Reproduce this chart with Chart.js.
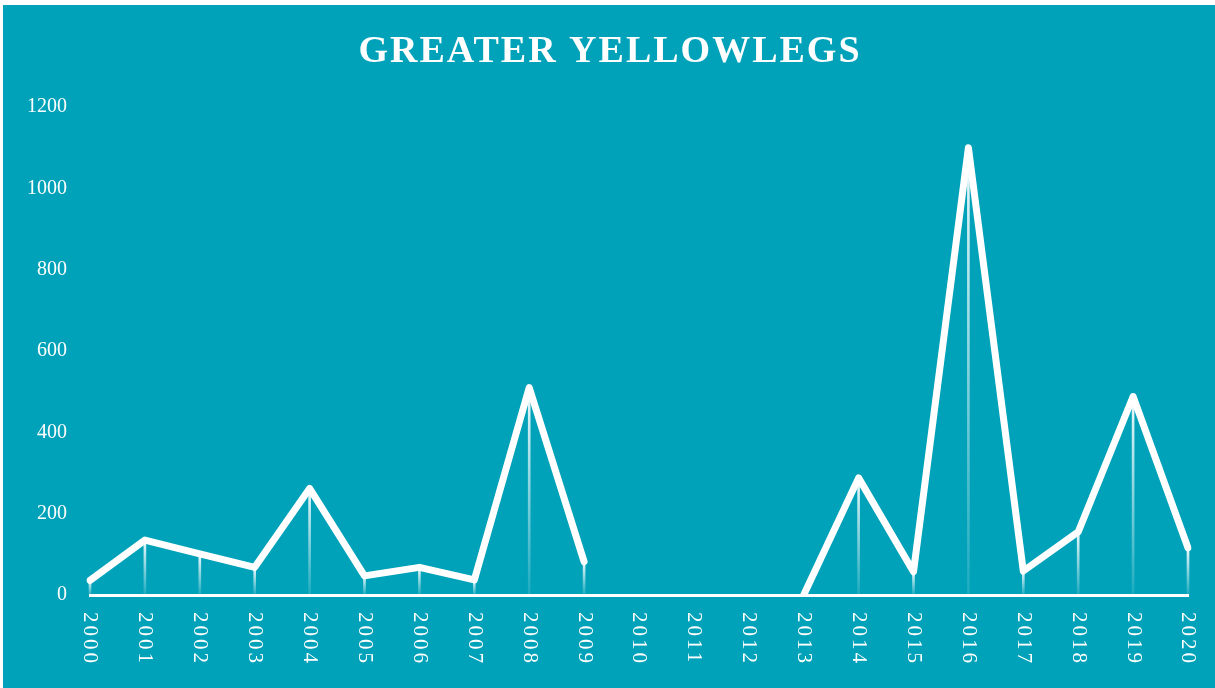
<!DOCTYPE html>
<html>
<head>
<meta charset="utf-8">
<script src="https://cdn.jsdelivr.net/npm/chart.js@4/dist/chart.umd.min.js"></script>
<style>
  html, body { margin: 0; padding: 0; background: #ffffff; overflow: hidden; }
  #wrap { position: fixed; left: 3px; top: 5px; right: 0; bottom: 0; background: #00a2b9; }
</style>
</head>
<body>
<div id="wrap"><canvas id="chart" width="1212" height="683"></canvas></div>
<script>
// ===== GREATER YELLOWLEGS – yearly counts =====

const chartTitle = 'GREATER YELLOWLEGS';
const years = ['2000', '2001', '2002', '2003', '2004', '2005', '2006', '2007', '2008', '2009', '2010',
    '2011', '2012', '2013', '2014', '2015', '2016', '2017', '2018', '2019', '2020'];
// null = no survey that year (line breaks)
const counts = [36, 135, 101, 68, 262, 47, 68, 37, 510, 82, null,
    null, null, 0, 288, 57, 1100, 59, 155, 488, 116];
const yTicks = [0, 200, 400, 600, 800, 1000, 1200];

const bgColor = '#00a2b9';
const white = '#ffffff';
const serif = "'Liberation Serif', 'DejaVu Serif', serif";

// vertical fade from the point down to the baseline
function dropGradient(context) {
    const chart = context.chart;
    const value = context.raw;
    if (!chart.chartArea || value === null || value === undefined) return 'rgba(255,255,255,0)';
    const yScale = chart.scales.y;
    const top = yScale.getPixelForValue(value);
    const bottom = yScale.getPixelForValue(0);
    if (bottom - top < 1) return 'rgba(255,255,255,0)';
    const g = chart.ctx.createLinearGradient(0, top, 0, bottom);
    g.addColorStop(0, 'rgba(255,255,255,0.95)');
    g.addColorStop(1, 'rgba(255,255,255,0.1)');
    return g;
}

// title and rotated year labels, drawn with letter spacing
const textPlugin = {
    id: 'textPlugin',
    afterDraw(chart) {
        const ctx = chart.ctx;
        const xScale = chart.scales.x;
        ctx.save();
        ctx.fillStyle = white;

        ctx.font = 'bold 38px ' + serif;
        ctx.letterSpacing = '2px';
        ctx.textAlign = 'center';
        ctx.textBaseline = 'middle';
        ctx.fillText(chartTitle, chart.width / 2 + 1, 47);

        ctx.font = '21px ' + serif;
        ctx.letterSpacing = '3px';
        ctx.textAlign = 'left';
        years.forEach((label, i) => {
            const x = xScale.getPixelForValue(i);
            ctx.save();
            ctx.translate(x, chart.chartArea.bottom + 17);
            ctx.rotate(Math.PI / 2);
            ctx.fillText(label, 0, 0);
            ctx.restore();
        });
        ctx.restore();
    }
};

new Chart(document.getElementById('chart'), {
    data: {
        labels: years,
        datasets: [{
            type: 'line',
            data: counts,
            borderColor: white,
            borderWidth: 7,
            borderCapStyle: 'round',
            borderJoinStyle: 'round',
            pointRadius: 0,
            tension: 0,
            spanGaps: false,
            order: 0
        }, {
            type: 'bar',
            data: counts,
            backgroundColor: dropGradient,
            borderWidth: 0,
            barThickness: 2,
            clip: false,
            order: 1
        }]
    },
    options: {
        responsive: false,
        animation: false,
        layout: {
            padding: { top: 102, right: 27, bottom: 93, left: 0 }
        },
        plugins: {
            legend: { display: false },
            title: { display: false },
            tooltip: { enabled: false }
        },
        scales: {
            x: {
                type: 'category',
                offset: false,
                grid: { display: false, drawTicks: false },
                border: { display: true, color: white, width: 3 },
                ticks: { display: false }
            },
            y: {
                min: 0,
                max: 1200,
                afterBuildTicks: (scale) => {
                    scale.ticks = yTicks.map(v => ({ value: v }));
                },
                afterFit: (scale) => {
                    scale.width = 87;
                },
                grid: { display: false, drawTicks: false },
                border: { display: false },
                ticks: {
                    color: white,
                    padding: 23,
                    font: { family: serif, size: 20 },
                    callback: (value) => String(value)
                }
            }
        }
    },
    plugins: [textPlugin]
});
</script>
</body>
</html>
